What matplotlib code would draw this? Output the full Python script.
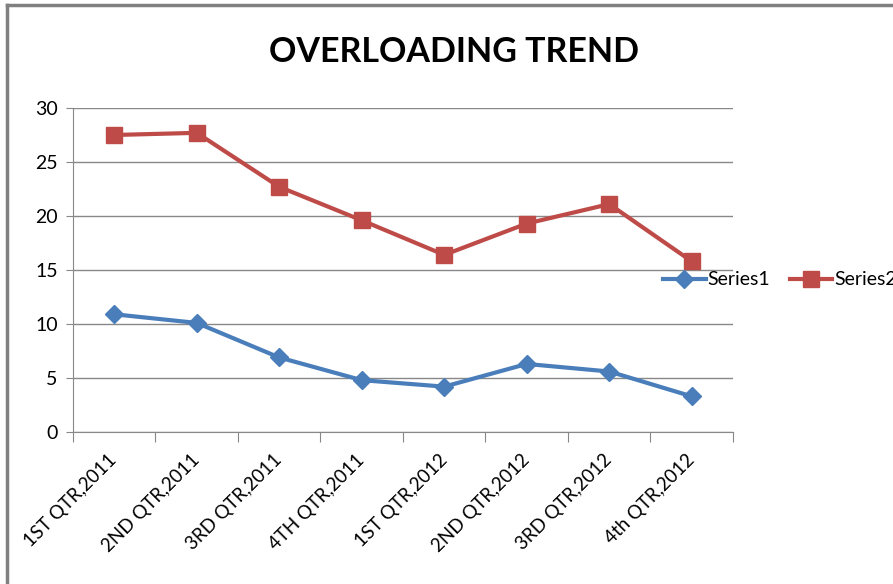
import numpy as np
import matplotlib
matplotlib.use("Agg")
from matplotlib import pyplot as plt
from matplotlib.lines import Line2D

quarters = ["1ST QTR,2011", "2ND QTR,2011", "3RD QTR,2011", "4TH QTR,2011",
            "1ST QTR,2012", "2ND QTR,2012", "3RD QTR,2012", "4th QTR,2012"]
series1 = [10.9, 10.1, 6.9, 4.8, 4.2, 6.3, 5.6, 3.3]
series2 = [27.5, 27.7, 22.7, 19.6, 16.4, 19.3, 21.1, 15.8]

plt.rcParams['font.family'] = ['Lato', 'DejaVu Sans']

fig = plt.figure(figsize=(8.93, 5.84), dpi=100)
ax = fig.add_axes([73/893, 1-432/584, 660/893, 324/584])

x = np.arange(1, len(quarters)+1)
ax.plot(x, series1, color='#4A7EBB', lw=3, marker='D', ms=9, label='Series1')
ax.plot(x, series2, color='#BE4B48', lw=3, marker='s', ms=12, label='Series2')

ax.set_xlim(0.5, len(quarters)+0.5)
ax.set_ylim(0, 30)
ax.set_yticks(range(0, 31, 5))
ax.yaxis.grid(True, color='#888888', lw=1)
ax.set_axisbelow(True)

# category boundary ticks, labels centred between them
ax.set_xticks(np.arange(0.5, len(quarters)+1, 1))
ax.set_xticklabels([])
ax.set_xticks(x, minor=True)
ax.set_xticklabels(quarters, minor=True, rotation=45, ha='right', va='center',
                   rotation_mode='anchor', fontsize=13.5)
ax.tick_params(axis='x', which='minor', length=0, pad=18)
ax.tick_params(axis='x', which='major', length=7, color='#888888')
ax.tick_params(axis='y', length=5, color='#888888', labelsize=14, pad=6)

for s in ['top', 'right']:
    ax.spines[s].set_visible(False)
for s in ['left', 'bottom']:
    ax.spines[s].set_color('#888888')

fig.text(454/893, 1-52/584, "OVERLOADING TREND", ha='center', va='center',
         fontsize=24.5, fontweight='bold')

fig.legend(loc='center left', bbox_to_anchor=(655/893, 1-280/584), ncol=2,
           frameon=False, fontsize=14, handlelength=2.2, columnspacing=1.0,
           handletextpad=0.1, borderaxespad=0)

# chart frame
fig.add_artist(Line2D([7/893, 7/893], [0, 1-5/584], color='#808080', lw=2.5,
                      transform=fig.transFigure))
fig.add_artist(Line2D([7/893, 1], [1-5/584, 1-5/584], color='#808080', lw=2.5,
                      transform=fig.transFigure))

fig.savefig("out.png", dpi=100)
